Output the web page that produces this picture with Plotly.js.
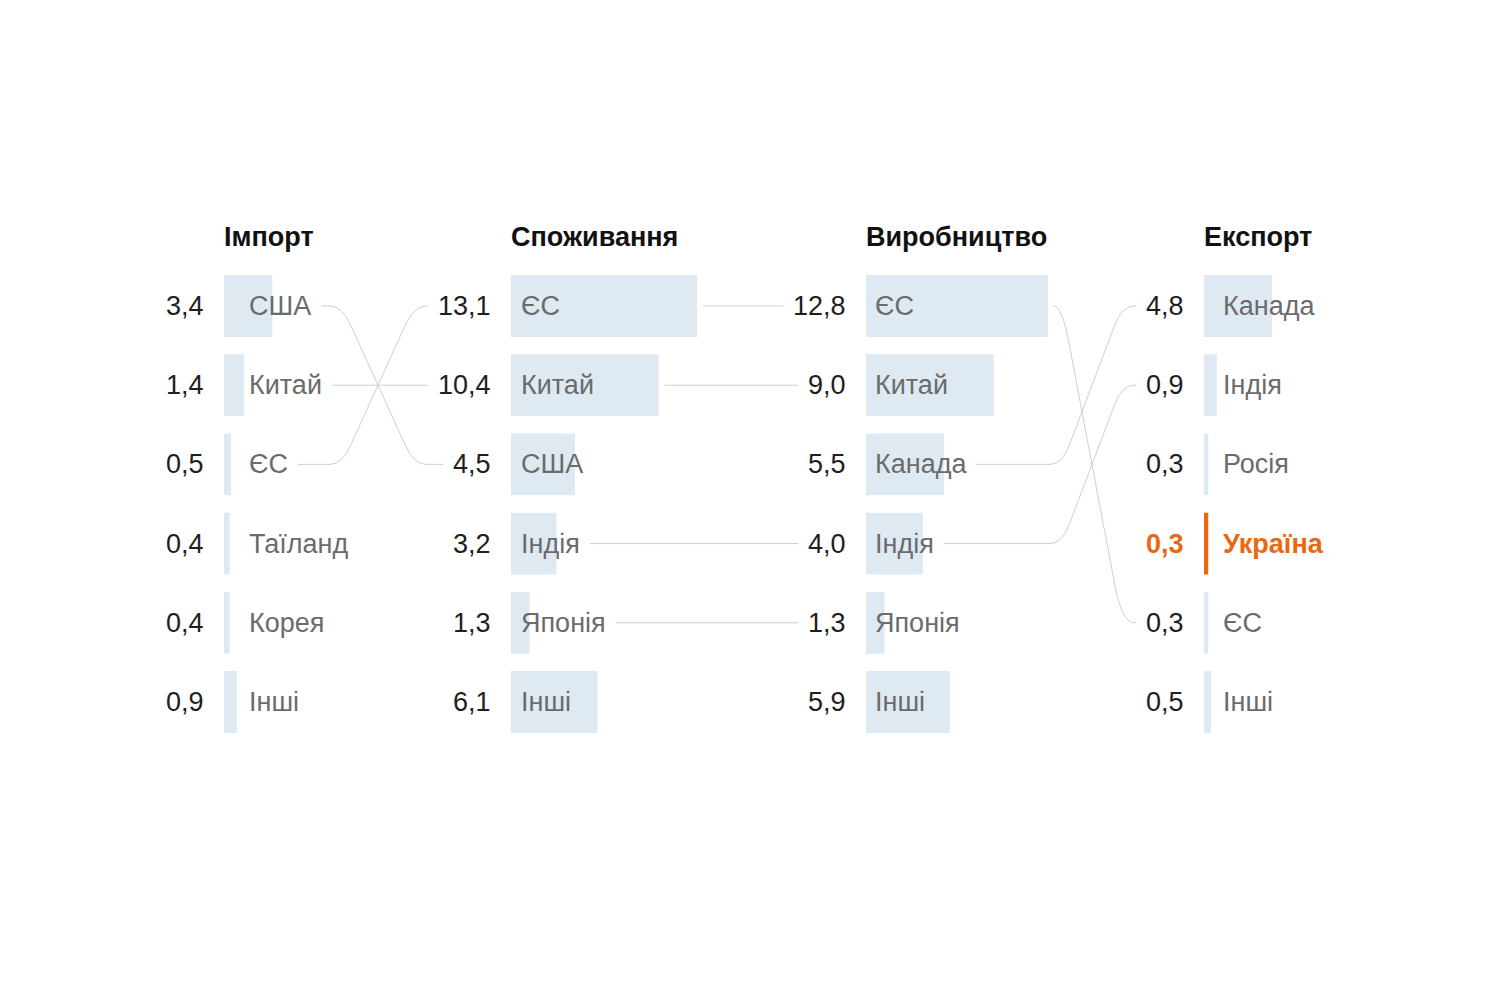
<!DOCTYPE html>
<html>
<head>
<meta charset="utf-8">
<script src="https://cdn.plot.ly/plotly-3.0.1.min.js"></script>
<style>html,body{margin:0;padding:0;background:#fff;}#chart{width:1500px;height:1000px;}</style>
</head>
<body>
<div id="chart"></div>
<script>
// ---- data ----
const columnTitles = ['Імпорт', 'Споживання', 'Виробництво', 'Експорт'];
const importCountries = ['США', 'Китай', 'ЄС', 'Таїланд', 'Корея', 'Інші'];
const importValues = [3.4, 1.4, 0.5, 0.4, 0.4, 0.9];
const consumptionCountries = ['ЄС', 'Китай', 'США', 'Індія', 'Японія', 'Інші'];
const consumptionValues = [13.1, 10.4, 4.5, 3.2, 1.3, 6.1];
const productionCountries = ['ЄС', 'Китай', 'Канада', 'Індія', 'Японія', 'Інші'];
const productionValues = [12.8, 9.0, 5.5, 4.0, 1.3, 5.9];
const exportCountries = ['Канада', 'Індія', 'Росія', 'Україна', 'ЄС', 'Інші'];
const exportValues = [4.8, 0.9, 0.3, 0.3, 0.3, 0.5];
const highlightCountry = 'Україна';
const otherLabel = 'Інші';

// ---- layout / style constants ----
const W = 1500, H = 1000;
const COL_START = [224, 511, 866, 1204];   // px, left edge of each column's bars
const COL_WIDTH = 250;                      // px width of each column axis domain
const PX_PER_UNIT = 14.2;                   // bar scale
const ROW0_PX = 306, ROW_STEP_PX = 79.2;    // row geometry
const BAR_WIDTH = 0.78;                     // in row units
const VALUE_GAP = 18;                       // px between value text and bar start
const LABEL_OFFSET = [23, 8, 7, 17];        // px from bar start to label
const HEADER_PX = 237;
const CROSS_ZONE = [[342, 414], null, [1062, 1122]]; // px, diagonal region per gap
const FONT = 'Liberation Sans, Arial, sans-serif';
const FONT_SIZE = 27;
const HEADER_SIZE = 27;
const BAR_COLOR = '#dfe9f2';
const HL_COLOR = '#e8680f';
const VALUE_COLOR = '#1e1e1e';
const LABEL_COLOR = '#6b6b6b';
const LINK_COLOR = '#cfcfcf';

const columns = [
  {countries: importCountries, values: importValues},
  {countries: consumptionCountries, values: consumptionValues},
  {countries: productionCountries, values: productionValues},
  {countries: exportCountries, values: exportValues}
];

const fmt = v => v.toFixed(1).replace('.', ',');
const axisId = c => c === 0 ? 'x' : 'x' + (c + 1);
const axisKey = c => c === 0 ? 'xaxis' : 'xaxis' + (c + 1);

const canvas = document.createElement('canvas');
const ctx = canvas.getContext('2d');
function textWidth(t, bold) {
  ctx.font = (bold ? 'bold ' : '') + FONT_SIZE + 'px "Liberation Sans", Arial, sans-serif';
  return ctx.measureText(t).width;
}

const yTop = -ROW0_PX / ROW_STEP_PX;
const yBottom = yTop + H / ROW_STEP_PX;
const headerRow = (HEADER_PX - ROW0_PX) / ROW_STEP_PX;

const traces = [];
const annotations = [];
const shapes = [];
const layout = {
  width: W, height: H,
  margin: {l: 0, r: 0, t: 0, b: 0, pad: 0},
  paper_bgcolor: '#ffffff', plot_bgcolor: 'rgba(0,0,0,0)',
  showlegend: false,
  font: {family: FONT, size: FONT_SIZE, color: VALUE_COLOR},
  yaxis: {range: [yBottom, yTop], showgrid: false, zeroline: false, showticklabels: false, ticks: '', showline: false, fixedrange: true},
  annotations: annotations,
  shapes: shapes
};

columns.forEach((col, c) => {
  const rows = col.countries.map((_, i) => i);
  traces.push({
    type: 'bar', orientation: 'h',
    x: col.values, y: rows,
    xaxis: axisId(c), yaxis: 'y',
    width: BAR_WIDTH,
    marker: {color: col.countries.map(n => n === highlightCountry ? HL_COLOR : BAR_COLOR), line: {width: 0}},
    hoverinfo: 'skip'
  });
  layout[axisKey(c)] = {
    domain: [COL_START[c] / W, (COL_START[c] + COL_WIDTH) / W],
    range: [0, COL_WIDTH / PX_PER_UNIT],
    anchor: 'y', showgrid: false, zeroline: false, showticklabels: false, ticks: '', showline: false, fixedrange: true
  };
  annotations.push({
    xref: axisId(c), yref: 'y', x: 0, y: headerRow, xanchor: 'left', yanchor: 'middle', xshift: -2,
    text: '<b>' + columnTitles[c] + '</b>', showarrow: false,
    font: {family: FONT, size: HEADER_SIZE, color: '#111111'}
  });
  col.countries.forEach((name, i) => {
    const hl = name === highlightCountry;
    annotations.push({
      xref: axisId(c), yref: 'y', x: 0, y: i, xanchor: 'right', yanchor: 'middle', xshift: -VALUE_GAP,
      text: hl ? '<b>' + fmt(col.values[i]) + '</b>' : fmt(col.values[i]), showarrow: false,
      font: {family: FONT, size: FONT_SIZE, color: hl ? HL_COLOR : VALUE_COLOR}
    });
    annotations.push({
      xref: axisId(c), yref: 'y', x: 0, y: i, xanchor: 'left', yanchor: 'middle', xshift: LABEL_OFFSET[c],
      text: hl ? '<b>' + name + '</b>' : name, showarrow: false,
      font: {family: FONT, size: FONT_SIZE, color: hl ? HL_COLOR : LABEL_COLOR}
    });
  });
});

// connectors between adjacent columns
for (let c = 0; c < columns.length - 1; c++) {
  const A = columns[c], B = columns[c + 1];
  A.countries.forEach((name, i) => {
    if (name === otherLabel) return;
    const j = B.countries.indexOf(name);
    if (j < 0) return;
    const barEnd = COL_START[c] + A.values[i] * PX_PER_UNIT;
    const labelEnd = COL_START[c] + LABEL_OFFSET[c] + 2 + textWidth(name, name === highlightCountry);
    const xs = Math.max(barEnd + 6, labelEnd + 10);
    const xe = COL_START[c + 1] - VALUE_GAP - 2 - textWidth(fmt(B.values[j]), B.countries[j] === highlightCountry) - 10;
    const px = v => (v / W).toFixed(5);
    let path;
    if (i === j) {
      path = `M ${px(xs)},${i} L ${px(xe)},${j}`;
    } else {
      const za = Math.max(CROSS_ZONE[c][0], xs), zb = Math.min(CROSS_ZONE[c][1], xe - 12);
      const r = 12, f = 0.12;
      const d1x = za + f * (zb - za), d1y = i + f * (j - i);
      const d2x = zb - f * (zb - za), d2y = j - f * (j - i);
      path = `M ${px(xs)},${i} L ${px(Math.max(xs, za - r))},${i} Q ${px(za)},${i} ${px(d1x)},${d1y} ` +
             `L ${px(d2x)},${d2y} Q ${px(zb)},${j} ${px(Math.min(zb + r, xe))},${j} L ${px(xe)},${j}`;
    }
    shapes.push({type: 'path', xref: 'paper', yref: 'y', path: path, line: {color: LINK_COLOR, width: 1}, layer: 'below'});
  });
}

Plotly.newPlot('chart', traces, layout, {staticPlot: true, displayModeBar: false});
</script>
</body>
</html>
